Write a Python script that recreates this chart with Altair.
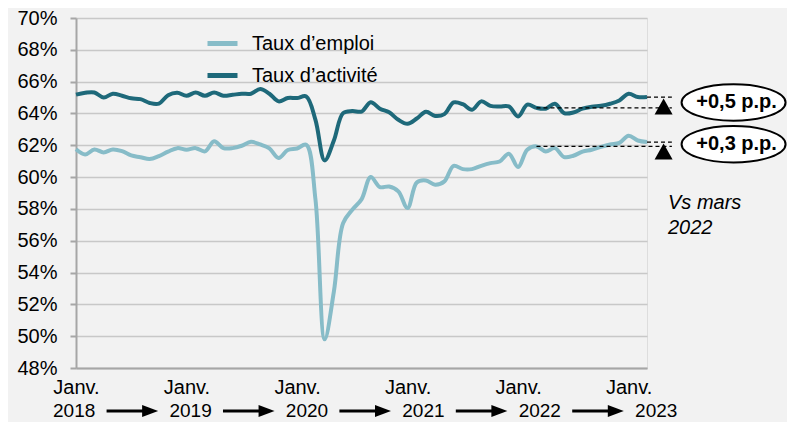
import altair as alt
import pandas as pd

# ---------------- data ----------------
# monthly points, Jan 2018 (index 0) .. Mar 2023 (index 62)
months = list(range(63))
taux_activite = [
    65.18, 65.30, 65.32, 65.00, 65.24, 65.11, 64.95, 64.90, 64.66, 64.62,
    65.15, 65.30, 65.11, 65.32, 65.11, 65.32, 65.11, 65.17, 65.24, 65.24,
    65.53, 65.24, 64.76, 64.97, 64.97, 65.07, 63.60, 61.05, 62.30, 64.02,
    64.15, 64.12, 64.71, 64.30, 64.07, 63.60, 63.35, 63.68, 64.10, 63.84,
    63.96, 64.69, 64.58, 64.23, 64.76, 64.48, 64.44, 64.44, 63.81, 64.55,
    64.35, 64.30, 64.61, 64.02, 64.06, 64.30, 64.42, 64.48, 64.61, 64.82,
    65.24, 65.03, 65.03,
]
taux_emploi = [
    61.75, 61.42, 61.74, 61.55, 61.74, 61.63, 61.36, 61.25, 61.13, 61.32,
    61.60, 61.82, 61.72, 61.82, 61.62, 62.25, 61.82, 61.82, 61.97, 62.22,
    62.05, 61.80, 61.20, 61.70, 61.80, 62.03, 58.60, 49.80, 52.80, 57.10,
    57.95, 58.60, 60.00, 59.37, 59.41, 59.10, 58.05, 59.66, 59.79, 59.52,
    59.73, 60.71, 60.50, 60.50, 60.71, 60.88, 60.98, 61.47, 60.63, 61.72,
    61.93, 61.61, 61.82, 61.26, 61.34, 61.60, 61.72, 61.90, 62.05, 62.15,
    62.60, 62.30, 62.20,
]
series_names = ["Taux d’emploi", "Taux d’activité"]
series_colors = ["#87BCC8", "#1E697A"]
tick_months = [0, 12, 24, 36, 48, 60]
y_ticks = list(range(48, 71, 2))
year_labels = ["2018", "2019", "2020", "2021", "2022", "2023"]
ref_index = 50  # mars 2022
delta_labels = ["+0,5 p.p.", "+0,3 p.p."]  # activité, emploi
vs_label = "Vs mars\n2022"

FONT = "Liberation Sans"

# ---------------- tables ----------------
df = pd.DataFrame(
    {"month": months * 2,
     "value": taux_emploi + taux_activite,
     "series": [series_names[0]] * len(months) + [series_names[1]] * len(months)}
)

last = months[-1]
end_x = last + 2.7
refs = [
    {"series": series_names[1], "ref": taux_activite[ref_index], "end": taux_activite[-1], "label": delta_labels[0]},
    {"series": series_names[0], "ref": taux_emploi[ref_index], "end": taux_emploi[-1], "label": delta_labels[1]},
]
dash_rows = []
mark_rows = []
for r in refs:
    dash_rows.append({"x": ref_index, "x2": end_x, "y": r["ref"]})
    dash_rows.append({"x": last, "x2": end_x, "y": r["end"]})
    mark_rows.append({"tx": last + 1.8, "ty": r["end"], "ex": last + 9.4,
                      "ey": (r["ref"] + r["end"]) / 2, "label": r["label"]})
dash_df = pd.DataFrame(dash_rows)
mark_df = pd.DataFrame(mark_rows)

year_step = 12.64
year_df = pd.DataFrame({"x": [-0.2 + year_step * i for i in range(len(year_labels))],
                        "label": year_labels})
arrow_mid = [(-0.2 + year_step * (i + 0.5)) for i in range(len(year_labels) - 1)]
arrow_df = pd.DataFrame({"x": [m - 2.8 for m in arrow_mid],
                         "x2": [m + 1.6 for m in arrow_mid],
                         "tip": [m + 2.8 for m in arrow_mid]})

# ---------------- scales / axes (identical in every layer) ----------------
xs = alt.Scale(domain=[0, last], nice=False, zero=False)
ys = alt.Scale(domain=[48, 70], nice=False, zero=False)

x_axis = alt.Axis(values=tick_months, labelExpr="'Janv.'", title=None, ticks=False,
                  grid=False, labelFontSize=20, labelColor="#000000", labelFont=FONT,
                  labelPadding=9, domainColor="#A6A6A6", domainWidth=2,
                  labelFlush=False, labelOverlap=False)
y_axis = alt.Axis(values=y_ticks, labelExpr="datum.value + '%'", title=None,
                  labelFontSize=20, labelColor="#000000", labelFont=FONT,
                  tickSize=6, tickColor="#A6A6A6", tickWidth=2, labelPadding=13,
                  domainColor="#A6A6A6", domainWidth=2,
                  labelOverlap=False, labelFlush=False, labelBound=False,
                  grid=True, gridColor="#C8C8C8", gridWidth=1.5)


def X(field):
    return alt.X(field, scale=xs, axis=x_axis, title=None)


def Y(field):
    return alt.Y(field, scale=ys, axis=y_axis, title=None)


lines = alt.Chart(df).mark_line(strokeWidth=4, interpolate="catmull-rom").encode(
    x=X("month:Q"),
    y=Y("value:Q"),
    color=alt.Color("series:N",
                    scale=alt.Scale(domain=series_names, range=series_colors),
                    legend=alt.Legend(orient="none", legendX=129, legendY=8, title=None,
                                      labelFontSize=20, labelFont=FONT, labelColor="#000000",
                                      symbolType="stroke", symbolStrokeWidth=5,
                                      symbolSize=900, rowPadding=4, labelOffset=12,
                                      padding=0)),
    order=alt.Order("month:Q"),
)

dashes = alt.Chart(dash_df).mark_rule(color="#000000", strokeWidth=1.3, strokeDash=[4, 3]).encode(
    x=X("x:Q"), x2="x2:Q", y=Y("y:Q")
)

tri_path = "M0,0.15L0.9,1.75L-0.9,1.75Z"
triangles = alt.Chart(mark_df).mark_point(shape=tri_path, size=400, filled=True,
                                          color="#000000", opacity=1).encode(
    x=X("tx:Q"), y=Y("ty:Q")
)

k = 0.35
c = 0.5523 * k
ell_path = (f"M-1,0C-1,{-c},-0.5523,{-k},0,{-k}C0.5523,{-k},1,{-c},1,0"
            f"C1,{c},0.5523,{k},0,{k}C-0.5523,{k},-1,{c},-1,0Z")
ellipses = alt.Chart(mark_df).mark_point(shape=ell_path, size=104 * 104, filled=False,
                                         fill="#FFFFFF", fillOpacity=1, stroke="#000000",
                                         strokeWidth=2, opacity=1).encode(
    x=X("ex:Q"), y=Y("ey:Q")
)
delta_text = alt.Chart(mark_df).mark_text(font=FONT, fontSize=20, fontWeight="bold",
                                          color="#000000", align="center",
                                          baseline="middle", dx=3).encode(
    x=X("ex:Q"), y=Y("ey:Q"), text="label:N"
)

vs_text = alt.Chart(pd.DataFrame({"label": [vs_label]})).mark_text(
    font=FONT, fontSize=20, fontStyle="italic", color="#000000", align="left",
    baseline="middle", lineBreak="\n", lineHeight=25
).encode(x=alt.value(592), y=alt.value(185), text="label:N")

ROW_Y = 393
years = alt.Chart(year_df).mark_text(font=FONT, fontSize=19, color="#000000",
                                     align="center", baseline="middle").encode(
    x=X("x:Q"), y=alt.value(ROW_Y), text="label:N"
)
arrow_shafts = alt.Chart(arrow_df).mark_rule(color="#000000", strokeWidth=3).encode(
    x=X("x:Q"), x2="x2:Q", y=alt.value(ROW_Y)
)
head_path = "M0,0L-2,-0.75L-2,0.75Z"
arrow_heads = alt.Chart(arrow_df).mark_point(shape=head_path, size=256, filled=True,
                                             color="#000000", opacity=1).encode(
    x=X("tip:Q"), y=alt.value(ROW_Y)
)

chart = alt.layer(
    lines, dashes, triangles, ellipses, delta_text, vs_text,
    years, arrow_shafts, arrow_heads
).properties(
    width=571, height=350,
    autosize=alt.AutoSizeParams(type="none"),
    padding={"left": 68, "top": 10, "right": 140, "bottom": 54},
    background="#F2F2F2",
).configure_view(strokeWidth=0).configure(font=FONT)

chart.save("out.html", embed_options={"renderer": "svg", "actions": False})
